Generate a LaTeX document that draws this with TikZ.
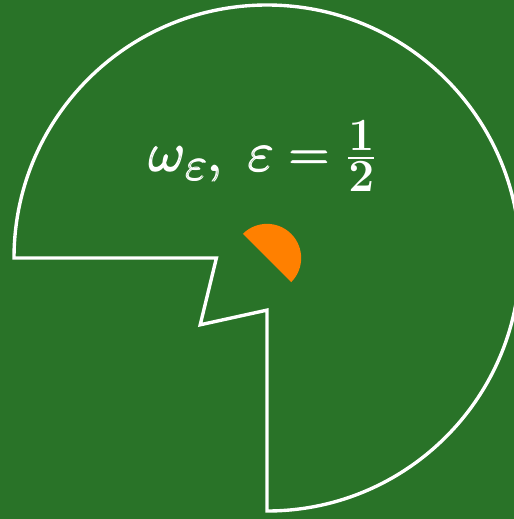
\documentclass[tikz,border=0pt]{standalone}
\usepackage{amsmath,amssymb}
\usepackage{tikz}
\usetikzlibrary{calc}
\usepackage{xcolor}

\definecolor{boardgreen}{RGB}{41,115,40}
\definecolor{diskorange}{RGB}{255,128,0}
\newcommand{\domainlabel}{\fontsize{24.88}{30}\selectfont
  $\pmb{\omega}_{\pmb{\varepsilon}}\mathpunct{\pmb{,}}\ \pmb{\varepsilon} \mathrel{\pmb{=}} \frac{\mathbf{1}}{\mathbf{2}}$}

\begin{document}
\begin{tikzpicture}[
  boundary/.style={white, line width=1.9pt, line join=miter},
  labeltext/.style={text=white, inner sep=0pt, scale=1.25},
]
  % Background (fixes the margins)
  \fill[boardgreen] (-5.277,-5.158) rectangle (4.881,5.099);
  \useasboundingbox (-5.277,-5.158) rectangle (4.881,5.099);

  % Domain boundary: three quarter disk with a notch
  \draw[boundary] (-5,0) -- (-1.0,0) -- (-1.32,-1.32) -- (0,-1.03)
    -- (0,-5) arc[start angle=-90, end angle=180, radius=5] -- cycle;

  % Half disk at the corner
  \fill[diskorange] (0,0) -- (-45:0.675) arc[start angle=-45, end angle=135, radius=0.675] -- cycle;

  % Label
  \node[labeltext, anchor=base] (lbl) at (-0.06,1.70) {\domainlabel};
\end{tikzpicture}
\end{document}
